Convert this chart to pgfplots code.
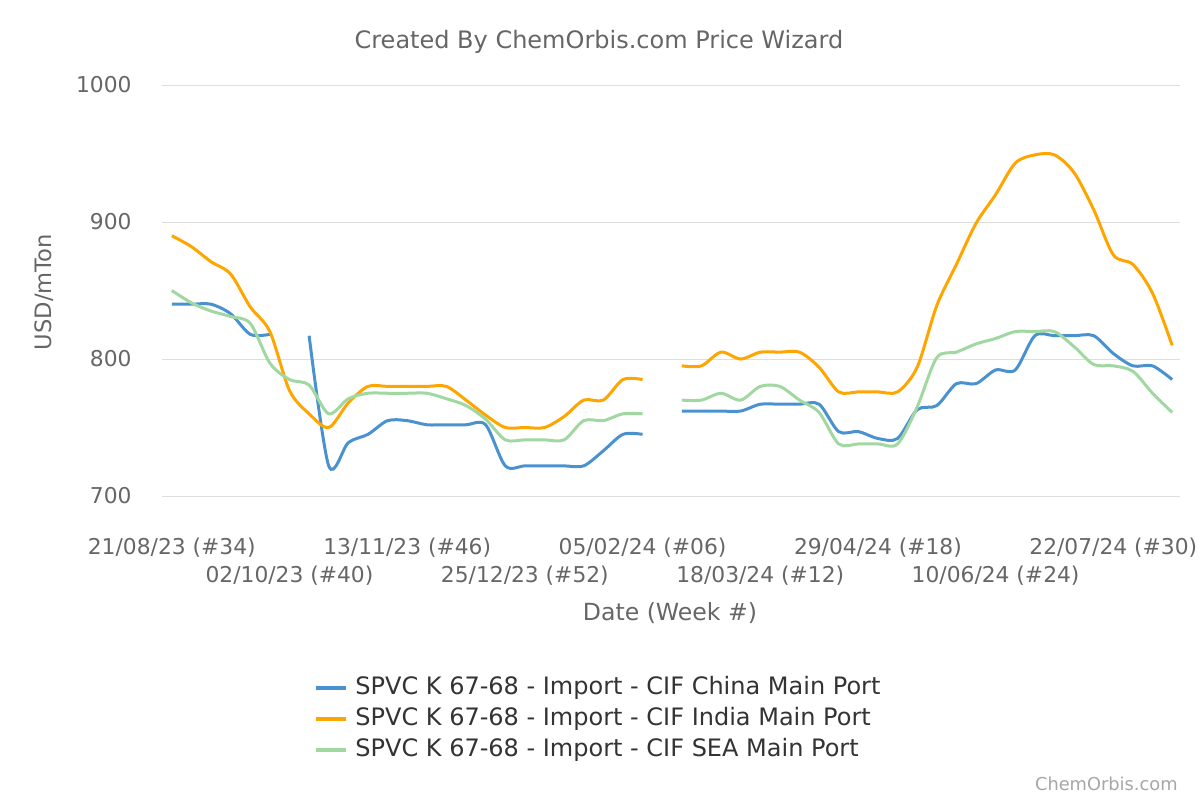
\documentclass[border=0pt]{standalone}
\usepackage{pgfplots}
\pgfplotsset{compat=1.18}
\usepackage{fontspec}
\setmainfont{DejaVu Sans}
\definecolor{cblue}{RGB}{74,146,207}
\definecolor{corange}{RGB}{255,165,0}
\definecolor{cgreen}{RGB}{161,216,161}
\definecolor{gridgray}{RGB}{222,222,222}
\definecolor{txtgray}{RGB}{102,102,102}
\definecolor{legtxt}{RGB}{51,51,51}
\pgfplotstableread{
w china india sea
0 840 890 850
1 840 882 841
2 840 871 835
3 833 862 831
4 818 838 826
5 818 820 797
6 nan 777 785
7 817 760 781
8 722 750 760
9 739 768 771
10 745 780 775
11 755 780 775
12 755 780 775
13 752 780 775
14 752 780 771
15 752 770 766
16 752 759 756
17 722 750 741
18 722 750 741
19 722 750 741
20 722 758 741
21 722 770 755
22 733 770 755
23 745 785 760
24 745 785 760
25 nan nan nan
26 762 795 770
27 762 795 770
28 762 805 775
29 762 800 770
30 767 805 780
31 767 805 780
32 767 805 770
33 767 794 761
34 747 776 738
35 747 776 738
36 742 776 738
37 742 776 738
38 763 794 765
39 766 839 801
40 782 869 805
41 782 899 811
42 792 920 815
43 792 943 820
44 817 949 820
45 817 949 820
46 817 936 809
47 817 909 796
48 804 876 795
49 795 869 791
50 795 848 775
51 785 810 761
}\data
\begin{document}
\begin{tikzpicture}
\path[use as bounding box] (0,0) rectangle (600pt,400pt);
\begin{axis}[
  at={(81pt,152pt)}, anchor=south west,
  scale only axis, width=509pt, height=205.5pt,
  xmin=-0.5, xmax=51.4, ymin=700, ymax=1000,
  axis line style={draw=none},
  major tick length=0pt,
  ymajorgrids, grid style={line width=0.5pt, gridgray},
  ytick={700,800,900,1000},
  /pgf/number format/assume math mode=true,
  /pgf/number format/1000 sep={},
  yticklabel style={anchor=east, inner sep=0pt, xshift=-15pt, text=txtgray, font=\fontsize{10.9}{13}\selectfont},
  xtick={0,6,12,18,24,30,36,42,48},
  xticklabels={{21/08/23 (\#34)},{\mbox{}\\[8pt]02/10/23 (\#40)},{13/11/23 (\#46)},{\mbox{}\\[8pt]25/12/23 (\#52)},{05/02/24 (\#06)},{\mbox{}\\[8pt]18/03/24 (\#12)},{29/04/24 (\#18)},{\mbox{}\\[8pt]10/06/24 (\#24)},{22/07/24 (\#30)}},
  xticklabel style={anchor=north, inner sep=0pt, align=center, yshift=-21pt, text=txtgray, font=\fontsize{10.9}{14}\selectfont},
  unbounded coords=jump,
  legend style={at={(0.1493,-0.437)}, anchor=north west, draw=none, fill=none, inner sep=0pt,
    font=\fontsize{12}{14}\selectfont, text=legtxt, row sep=3.5pt, column sep=3.5pt,
    nodes={inner sep=0pt, text height=9pt, text depth=3pt}},
  legend cell align=left,
  legend image code/.code={\draw[#1, line width=2pt] (0pt,0pt) -- (15pt,0pt);},
]
\addplot[cblue, line width=1.5pt, smooth, tension=0.5] table[x=w, y=china] {\data};
\addlegendentry{SPVC K 67-68 - Import - CIF China Main Port}
\addplot[corange, line width=1.5pt, smooth, tension=0.5] table[x=w, y=india] {\data};
\addlegendentry{SPVC K 67-68 - Import - CIF India Main Port}
\addplot[cgreen, line width=1.5pt, smooth, tension=0.5] table[x=w, y=sea] {\data};
\addlegendentry{SPVC K 67-68 - Import - CIF SEA Main Port}
\end{axis}
\node[text=txtgray, font=\fontsize{12}{14}\selectfont] at (299.5pt,379pt) {Created By ChemOrbis.com Price Wizard};
\node[text=txtgray, font=\fontsize{11.8}{14}\selectfont] at (335pt,93.5pt) {Date (Week \#)};
\node[text=txtgray, rotate=90, font=\fontsize{11.3}{14}\selectfont] at (22pt,254pt) {USD/mTon};
\node[text=gray!70, anchor=east, inner sep=0pt, font=\fontsize{8.9}{11}\selectfont] at (589pt,8pt) {ChemOrbis.com};
\end{tikzpicture}
\end{document}
